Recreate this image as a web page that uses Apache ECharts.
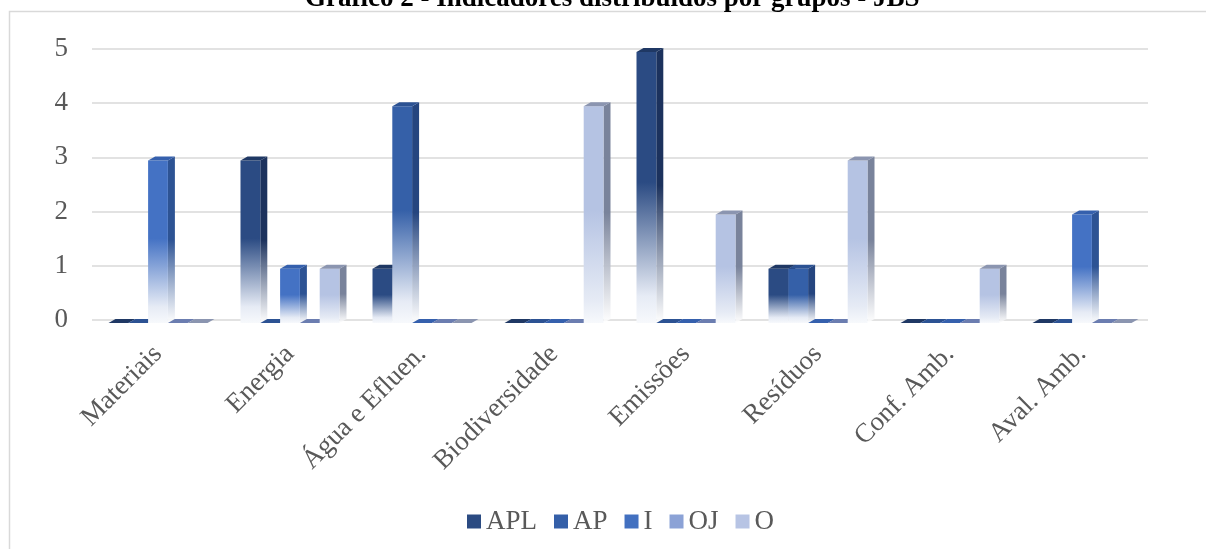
<!DOCTYPE html>
<html>
<head>
<meta charset="utf-8">
<script src="https://cdn.jsdelivr.net/npm/echarts@6/dist/echarts.min.js"></script>
<style>
  html, body { margin: 0; padding: 0; background: #ffffff; }
  #chart { width: 1206px; height: 549px; }
</style>
</head>
<body>
<div id="chart"></div>
<script>
// Indicator groups on the category axis
const categories = ['Materiais', 'Energia', 'Água e Efluen.', 'Biodiversidade', 'Emissões', 'Resíduos', 'Conf. Amb.', 'Aval. Amb.'];

// Number of indicators per group, one array per series
const seriesNames = ['APL', 'AP', 'I', 'OJ', 'O'];
const valuesAPL = [0, 3, 1, 0, 5, 1, 0, 0];
const valuesAP  = [0, 0, 4, 0, 0, 1, 0, 0];
const valuesI   = [3, 1, 0, 0, 0, 0, 0, 2];
const valuesOJ  = [0, 0, 0, 0, 0, 0, 0, 0];
const valuesO   = [0, 1, 0, 4, 2, 3, 1, 0];

// Value axis ticks
const yTicks = [0, 1, 2, 3, 4, 5];

const seriesValues = [valuesAPL, valuesAP, valuesI, valuesOJ, valuesO];

// Face colours for the 3D columns: front, side, top
const palette = [
  { front: '#2b4b83', side: '#1c325d', top: '#1f3864', legend: '#2b4b82' },
  { front: '#3560a8', side: '#25457f', top: '#2c5293', legend: '#345fa8' },
  { front: '#4472c4', side: '#2d5394', top: '#3560ad', legend: '#4270c0' },
  { front: '#8ba2d6', side: '#5f6f96', top: '#6b7db0', legend: '#8ba2d6' },
  { front: '#b5c3e3', side: '#79839b', top: '#8b95b0', legend: '#b7c4e4' }
];

const FONT = "'Liberation Serif', 'DejaVu Serif', serif";
const DEPTH_X = 7, DEPTH_Y = 4, FRONT_SHIFT = 3;

function renderColumn(si) {
  const c = palette[si];
  return function (params, api) {
    const cat = api.value(0);
    const v = api.value(1);
    const base = api.coord([cat, 0]);
    const top = api.coord([cat, v]);
    const catW = api.size([1, 0])[0];
    const bw = catW * 0.15;
    const x0 = base[0] + (si - 2) * bw - bw / 2;
    const yb = base[1] + FRONT_SHIFT;
    const yt = top[1] + FRONT_SHIFT;
    const dx = DEPTH_X, dy = DEPTH_Y;
    const topFace = {
      type: 'polygon',
      shape: { points: [[x0, yt], [x0 + dx, yt - dy], [x0 + bw + dx, yt - dy], [x0 + bw, yt]] },
      style: { fill: c.top }
    };
    if (v === 0) {
      return { type: 'group', children: [topFace] };
    }
    const front = {
      type: 'rect',
      shape: { x: x0, y: yt, width: bw, height: yb - yt },
      style: {
        fill: new echarts.graphic.LinearGradient(0, 0, 0, 1, [
          { offset: 0, color: c.front },
          { offset: 0.48, color: c.front },
          { offset: 0.9, color: '#e6ebf5' },
          { offset: 1, color: '#f7f9fc' }
        ])
      }
    };
    const side = {
      type: 'polygon',
      shape: { points: [[x0 + bw, yt], [x0 + bw + dx, yt - dy], [x0 + bw + dx, yb - dy], [x0 + bw, yb]] },
      style: {
        fill: new echarts.graphic.LinearGradient(0, 0, 0, 1, [
          { offset: 0, color: c.side },
          { offset: 0.5, color: c.side },
          { offset: 1, color: 'rgba(255,255,255,0.9)' }
        ])
      }
    };
    return { type: 'group', children: [side, front, topFace] };
  };
}

const series = seriesNames.map((name, si) => ({
  name: name,
  type: 'custom',
  renderItem: renderColumn(si),
  encode: { x: 0, y: 1 },
  itemStyle: { color: palette[si].legend },
  data: seriesValues[si].map((v, i) => [i, v])
}));

const chart = echarts.init(document.getElementById('chart'), null, { renderer: 'canvas' });
chart.setOption({
  animation: false,
  backgroundColor: '#ffffff',
  title: {
    text: 'Gráfico 2 - Indicadores distribuídos por grupos - JBS',
    left: 300,
    top: -19,
    textStyle: { fontFamily: FONT, fontWeight: 'bold', fontSize: 27, color: '#000000' }
  },
  graphic: [{
    type: 'rect',
    left: 7, top: 9,
    shape: { width: 1300, height: 600 },
    style: { fill: 'none', stroke: '#d9d9d9', lineWidth: 1.5 },
    z: -1
  }],
  legend: {
    left: 462,
    top: 503,
    icon: 'rect',
    itemWidth: 14,
    itemHeight: 14,
    itemGap: 17,
    data: seriesNames,
    textStyle: { fontFamily: FONT, fontSize: 27, color: '#595959' }
  },
  grid: { left: 92, right: 58, top: 49, bottom: 229 },
  xAxis: {
    type: 'category',
    data: categories,
    axisLine: { show: false },
    axisTick: { show: false },
    axisLabel: { rotate: 45, margin: 30, interval: 0, fontFamily: FONT, fontSize: 27, color: '#595959' }
  },
  yAxis: {
    type: 'value',
    min: yTicks[0],
    max: yTicks[yTicks.length - 1],
    interval: 1,
    axisLine: { show: false },
    axisTick: { show: false },
    axisLabel: { margin: 24, fontFamily: FONT, fontSize: 27, color: '#595959' },
    splitLine: { lineStyle: { color: '#d9d9d9', width: 1.5 } }
  },
  series: series
});
</script>
</body>
</html>
